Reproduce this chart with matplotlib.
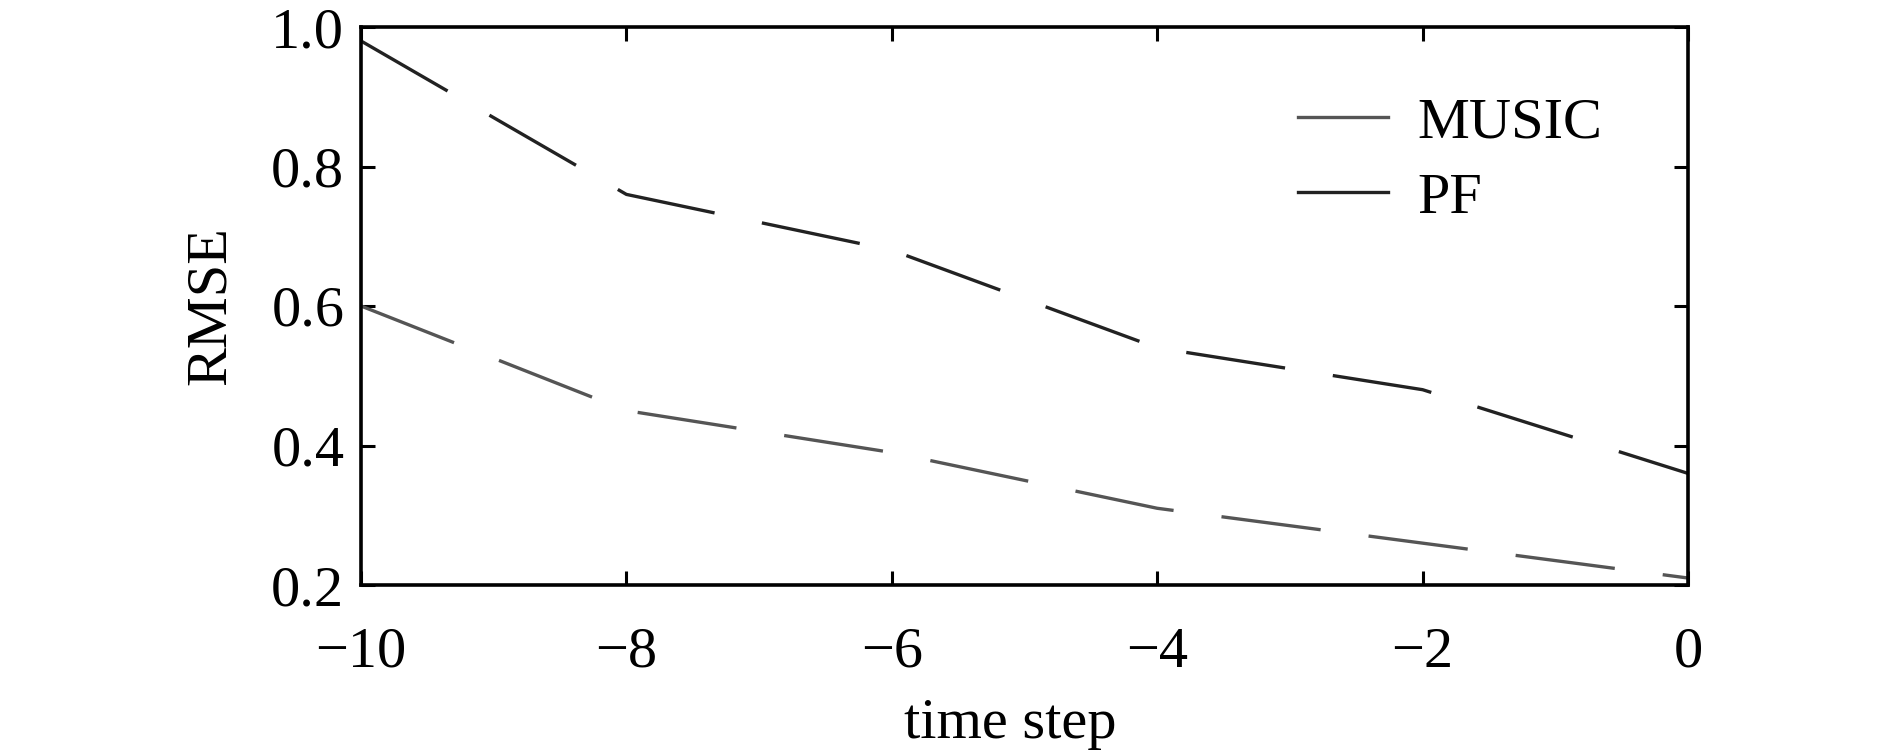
import matplotlib
matplotlib.use("Agg")
import matplotlib.pyplot as plt

# values
time_step = [-10, -8, -6, -4, -2, 0]
rmse_music = [0.60, 0.45, 0.39, 0.31, 0.26, 0.21]
rmse_pf = [0.98, 0.76, 0.68, 0.54, 0.48, 0.36]
x_ticks = [-10, -8, -6, -4, -2, 0]
y_ticks = [0.2, 0.4, 0.6, 0.8, 1.0]

plt.rcParams['font.family'] = ['Liberation Serif', 'DejaVu Serif']

fig = plt.figure(figsize=(18.9, 7.56), dpi=100)
ax = fig.add_axes([361 / 1890, 1 - 585 / 756, (1688 - 361) / 1890, (585 - 27) / 756])

lw = 2.4
ax.plot(time_step, rmse_music, color="#555555", lw=lw, dashes=(30, 14.5), label="MUSIC")
ax.plot(time_step, rmse_pf, color="#222222", lw=lw, dashes=(30, 14.5), label="PF")

ax.set_xlim(-10, 0)
ax.set_ylim(0.2, 1.0)
ax.set_xticks(x_ticks)
ax.set_yticks(y_ticks)
ax.set_xticklabels([f"{v}".replace("-", "\u2212") for v in x_ticks])
ax.set_yticklabels([f"{v:.1f}" for v in y_ticks])

ax.tick_params(direction="in", length=10, width=2.2, labelsize=42,
               top=True, right=True, color="black")
ax.tick_params(axis="x", pad=30)
ax.tick_params(axis="y", pad=12)
for sp in ax.spines.values():
    sp.set_linewidth(2.6)
    sp.set_color("black")

ax.set_xlabel("time step", fontsize=42, labelpad=14, x=0.489)
ax.set_ylabel("RMSE", fontsize=42, labelpad=25)

leg = ax.legend(loc="upper left", bbox_to_anchor=(1298 / 1890, 1 - 97 / 756),
                bbox_transform=fig.transFigure, frameon=False, fontsize=42,
                handlelength=1.55, handletextpad=0.5, labelspacing=0.38,
                borderpad=0, borderaxespad=0)
for line in leg.get_lines():
    line.set_linestyle("-")
    line.set_linewidth(lw)

fig.savefig("out.png", dpi=100)
